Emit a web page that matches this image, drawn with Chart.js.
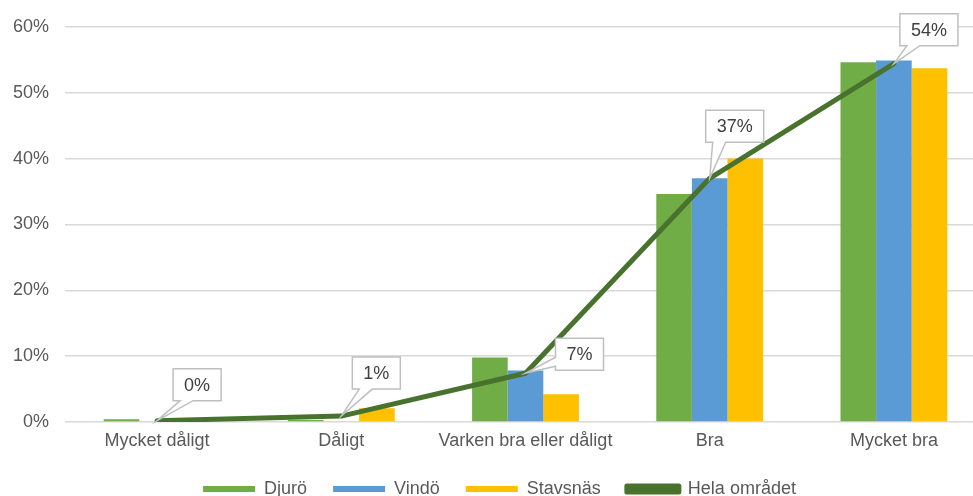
<!DOCTYPE html>
<html lang="sv">
<head>
<meta charset="utf-8">
<script src="https://cdn.jsdelivr.net/npm/chart.js@4"></script>
<style>
  html, body { margin: 0; padding: 0; background: #fff; overflow: hidden; }
  #wrap { width: 990px; height: 508px; position: relative; }
</style>
</head>
<body>
<div id="wrap"><canvas id="chart"></canvas></div>
<script>
// ─── DATA ───────────────────────────────────────────────────────
const categories = ["Mycket dåligt", "Dåligt", "Varken bra eller dåligt", "Bra", "Mycket bra"];
const djuro    = [0.4, 0.3, 9.8, 34.6, 54.6];
const vindo    = [0.0, 0.1, 7.8, 37.0, 54.9];
const stavsnas = [0.0, 2.1, 4.2, 40.0, 53.7];
const helaOmradet = [0.2, 0.9, 7.4, 37.0, 54.4];
const yTicks = [0, 10, 20, 30, 40, 50, 60];

// ─── STIL ───────────────────────────────────────────────────────
const C = {
  green:  "#70ad47",
  blue:   "#5b9bd5",
  yellow: "#ffc000",
  line:   "#48722d",
  grid:   "#d9d9d9",
  text:   "#595959",
  label:  "#404040",
};
const FONT = "'Liberation Sans', Arial, sans-serif";

Chart.defaults.font.family = FONT;
Chart.defaults.font.size = 18;
Chart.defaults.color = C.text;

// callout-förskjutning (boxens övre vänstra hörn relativt punkten)
const calloutOffsets = [[16, -52], [11, -59], [30, -35], [-4, -68], [6, -50]];

const calloutPlugin = {
  id: "callouts",
  afterDatasetsDraw(chart) {
    const meta = chart.getDatasetMeta(3);
    const ctx = chart.ctx;
    ctx.save();
    ctx.font = "18px " + FONT;
    meta.data.forEach((pt, i) => {
      const txt = Math.round(helaOmradet[i]) + "%";
      const w = ctx.measureText(txt).width + 22;
      const h = 32;
      const [dx, dy] = calloutOffsets[i];
      const l = pt.x + dx, t = pt.y + dy, r = l + w, b = t + h;
      ctx.beginPath();
      if (dx > 20) {
        // pekare från vänsterkanten
        ctx.moveTo(l, t);
        ctx.lineTo(r, t);
        ctx.lineTo(r, b);
        ctx.lineTo(l, b);
        ctx.lineTo(l, b - 4);
        ctx.lineTo(pt.x, pt.y);
        ctx.lineTo(l, b - 13);
      } else {
        ctx.moveTo(l, t);
        ctx.lineTo(r, t);
        ctx.lineTo(r, b);
        ctx.lineTo(l + 20, b);
        ctx.lineTo(pt.x, pt.y);
        ctx.lineTo(l + 7, b);
        ctx.lineTo(l, b);
      }
      ctx.closePath();
      ctx.fillStyle = "#fff";
      ctx.fill();
      ctx.strokeStyle = "#bfbfbf";
      ctx.lineWidth = 1.5;
      ctx.stroke();
      ctx.fillStyle = C.label;
      ctx.textAlign = "center";
      ctx.textBaseline = "middle";
      ctx.fillText(txt, (l + r) / 2, (t + b) / 2 + 1);
    });
    ctx.restore();
  },
};

const barOpts = { categoryPercentage: 0.58, barPercentage: 1.0, order: 2 };

new Chart(document.getElementById("chart"), {
  type: "bar",
  data: {
    labels: categories,
    datasets: [
      { label: "Djurö", data: djuro, backgroundColor: C.green, ...barOpts },
      { label: "Vindö", data: vindo, backgroundColor: C.blue, ...barOpts },
      { label: "Stavsnäs", data: stavsnas, backgroundColor: C.yellow, ...barOpts },
      {
        type: "line",
        label: "Hela området",
        data: helaOmradet,
        borderColor: C.line,
        backgroundColor: C.line,
        borderWidth: 5,
        borderCapStyle: "round",
        borderJoinStyle: "round",
        pointRadius: 0,
        tension: 0,
        order: 1,
      },
    ],
  },
  options: {
    responsive: true,
    maintainAspectRatio: false,
    animation: false,
    layout: { padding: { left: 13, right: 4, top: 24, bottom: 0 } },
    plugins: {
      tooltip: { enabled: false },
      legend: {
        position: "bottom",
        labels: {
          boxWidth: 52,
          boxHeight: 6,
          padding: 26,
          color: C.text,
          font: { size: 18 },
          sort: (a, b) => a.datasetIndex - b.datasetIndex,
        },
      },
    },
    scales: {
      x: {
        grid: { display: false, drawTicks: false },
        border: { display: false },
        ticks: { padding: 8, color: C.text, maxRotation: 0, autoSkip: false },
        afterFit(s) { s.height = 32; },
      },
      y: {
        min: 0,
        max: 60,
        afterBuildTicks(s) { s.ticks = yTicks.map(v => ({ value: v })); },
        grid: { color: C.grid, lineWidth: 1.5, drawTicks: false },
        border: { display: false },
        ticks: { padding: 16, color: C.text, callback: v => v + "%" },
        afterFit(s) { s.width = 52; },
      },
    },
  },
  plugins: [calloutPlugin],
});
</script>
</body>
</html>
